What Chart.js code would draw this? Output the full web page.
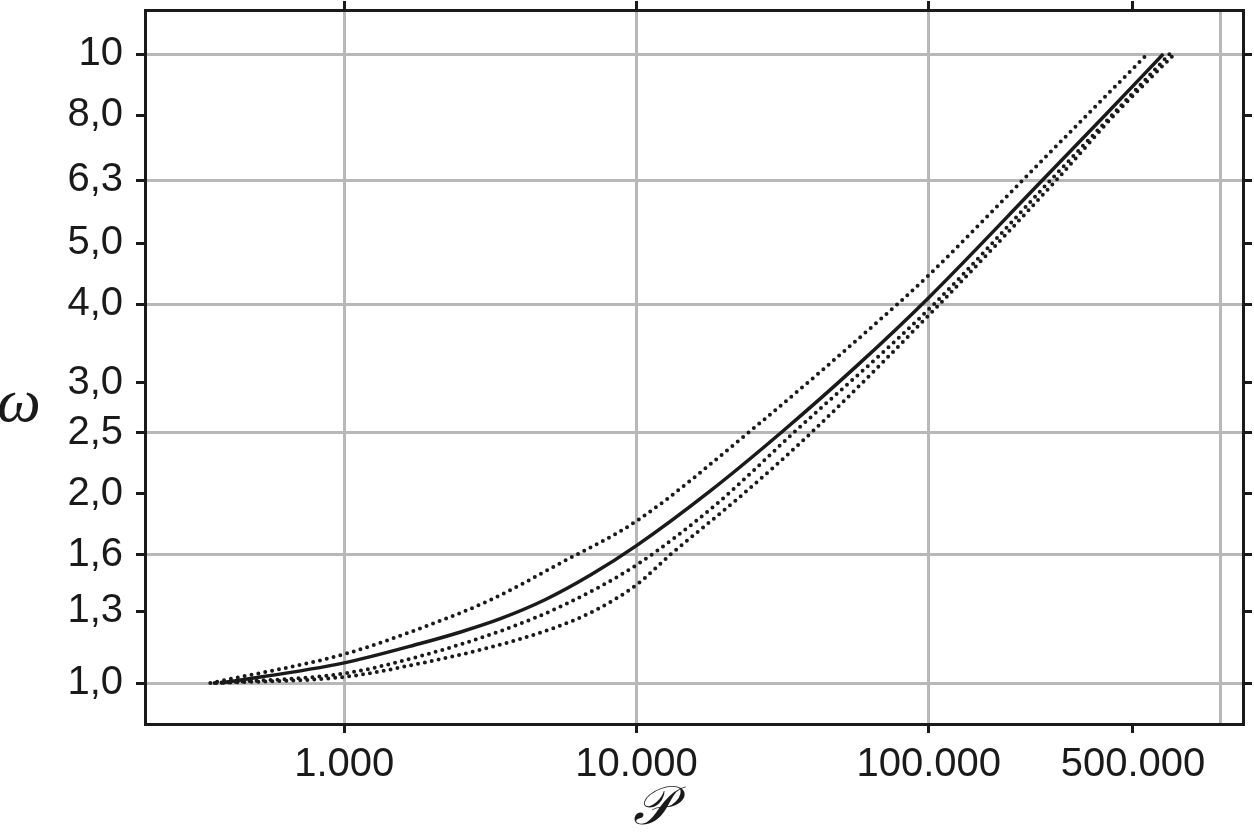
<!DOCTYPE html>
<html>
<head>
<meta charset="utf-8">
<script src="https://cdn.jsdelivr.net/npm/chart.js@4/dist/chart.umd.min.js"></script>
<style>
  html, body { margin: 0; padding: 0; background: #fff; }
  canvas { display: block; }
</style>
</head>
<body>
<canvas id="grafik" width="1254" height="832"></canvas>
<script>
// tick & grid values
const xTicks = [1000, 10000, 100000, 500000, 1000000];
const xTicksTop = [1000, 10000, 100000, 500000];
const xGrid = [1000, 10000, 100000, 1000000];
const yTicks = [1.0, 1.3, 1.6, 2.0, 2.5, 3.0, 4.0, 5.0, 6.3, 8.0, 10];
const yGrid = [1.0, 1.6, 2.5, 4.0, 6.3, 10];

// solid curve
const solidP = [377, 1000, 1820, 2518, 3425, 4884, 6958, 10000, 17890, 31790, 56480, 100000, 244800, 402000, 635000];
const solidW = [1.0, 1.077, 1.156, 1.207, 1.266, 1.358, 1.485, 1.654, 2.021, 2.519, 3.188, 4.1, 6.3, 8.0, 10];

// dotted, upper
const atasP = [348, 1000, 1820, 3155, 5470, 10000, 24100, 78000, 100000, 209600, 348000, 560000];
const atasW = [1.0, 1.112, 1.222, 1.355, 1.55, 1.81, 2.5, 4.0, 4.45, 6.3, 8.0, 10];

// dotted, lower 1
const bawah1P = [360, 1000, 1820, 3508, 5717, 10000, 18610, 34500, 104000, 261000, 424000, 667000];
const bawah1W = [1.0, 1.036, 1.104, 1.215, 1.335, 1.541, 1.919, 2.5, 4.0, 6.3, 8.0, 10];

// dotted, lower 2
const bawah2P = [365, 1000, 1820, 3068, 5198, 7235, 10000, 13058, 22660, 39600, 108700, 273000, 432000, 693000];
const bawah2W = [1.0, 1.023, 1.075, 1.136, 1.223, 1.306, 1.433, 1.6, 1.98, 2.5, 4.0, 6.3, 8.0, 10];

const HITAM = '#1a1a1a';
const ABU = '#b8b8b8';
const fontAngka = { family: '"Liberation Sans", Arial, Helvetica, sans-serif', size: 40 };

function gabung(px, wy) {
    return px.map((v, i) => ({ x: v, y: wy[i] }));
}

function formatRibuan(v) {
    return String(v).replace(/\B(?=(\d{3})+(?!\d))/g, '.');
}

function pasangTicks(vals) {
    return function(scale) {
        scale.ticks = vals.map(v => ({ value: v }));
    };
}

function garisTitik(px, wy) {
    return {
        data: gabung(px, wy),
        borderColor: HITAM,
        borderWidth: 4,
        borderDash: [0, 7],
        borderCapStyle: 'round',
        pointRadius: 0,
        fill: false,
        cubicInterpolationMode: 'monotone'
    };
}

// judul sumbu (tegak, bukan diputar)
const judulSumbu = {
    id: 'judulSumbu',
    afterDraw(chart) {
        const ctx = chart.ctx;
        ctx.save();
        ctx.fillStyle = HITAM;
        ctx.textAlign = 'center';
        ctx.textBaseline = 'middle';
        ctx.font = 'italic 62px "Liberation Serif", "DejaVu Serif", serif';
        ctx.fillText('ω', 19, 405);
        ctx.font = 'italic 54px "DejaVu Serif", "Liberation Serif", serif';
        ctx.fillText('𝒫', 652, 810);
        ctx.restore();
    }
};

const xMin = 208, xMax = 1190000;
const yMin = 0.861, yMax = 11.75;

new Chart(document.getElementById('grafik').getContext('2d'), {
    type: 'line',
    data: {
        datasets: [
            {
                data: gabung(solidP, solidW),
                borderColor: HITAM,
                borderWidth: 3.5,
                pointRadius: 0,
                fill: false,
                cubicInterpolationMode: 'monotone'
            },
            garisTitik(atasP, atasW),
            garisTitik(bawah1P, bawah1W),
            garisTitik(bawah2P, bawah2W)
        ]
    },
    options: {
        responsive: false,
        animation: false,
        devicePixelRatio: 1,
        layout: { padding: 0 },
        plugins: { legend: { display: false }, tooltip: { enabled: false } },
        scales: {
            x: {
                type: 'logarithmic', position: 'bottom', min: xMin, max: xMax, bounds: 'data',
                afterBuildTicks: pasangTicks(xTicks),
                afterFit: s => { s.height = 832 - 724; s.paddingLeft = 0; s.paddingRight = 0; },
                ticks: {
                    autoSkip: false, maxRotation: 0, padding: 8, color: HITAM, font: fontAngka,
                    callback: v => v === 1000000 ? '' : formatRibuan(v)
                },
                grid: {
                    color: c => xGrid.includes(c.tick && c.tick.value) ? ABU : 'rgba(0,0,0,0)',
                    lineWidth: 3,
                    tickColor: c => (c.tick && c.tick.value === 1000000) ? 'rgba(0,0,0,0)' : HITAM,
                    tickWidth: 3, tickLength: 9
                },
                border: { display: true, color: HITAM, width: 3 }
            },
            x2: {
                type: 'logarithmic', position: 'top', min: xMin, max: xMax, bounds: 'data',
                afterBuildTicks: pasangTicks(xTicksTop),
                afterFit: s => { s.height = 10; s.paddingLeft = 0; s.paddingRight = 0; },
                ticks: { display: false, autoSkip: false },
                grid: { drawOnChartArea: false, tickColor: HITAM, tickWidth: 3, tickLength: 9 },
                border: { display: true, color: HITAM, width: 3 }
            },
            y: {
                type: 'logarithmic', position: 'left', min: yMin, max: yMax, bounds: 'data',
                afterBuildTicks: pasangTicks(yTicks),
                afterFit: s => { s.width = 145; s.paddingTop = 0; s.paddingBottom = 0; },
                ticks: {
                    autoSkip: false, padding: 13, color: HITAM, font: fontAngka,
                    callback: v => v === 10 ? '10' : v.toFixed(1).replace('.', ',')
                },
                grid: {
                    color: c => yGrid.includes(c.tick && c.tick.value) ? ABU : 'rgba(0,0,0,0)',
                    lineWidth: 3,
                    tickColor: HITAM, tickWidth: 3, tickLength: 9
                },
                border: { display: true, color: HITAM, width: 3 }
            },
            y2: {
                type: 'logarithmic', position: 'right', min: yMin, max: yMax, bounds: 'data',
                afterBuildTicks: pasangTicks(yTicks),
                afterFit: s => { s.width = 1254 - 1243; s.paddingTop = 0; s.paddingBottom = 0; },
                ticks: { display: false, autoSkip: false },
                grid: { drawOnChartArea: false, tickColor: HITAM, tickWidth: 3, tickLength: 9 },
                border: { display: true, color: HITAM, width: 3 }
            }
        }
    },
    plugins: [judulSumbu]
});
</script>
</body>
</html>
